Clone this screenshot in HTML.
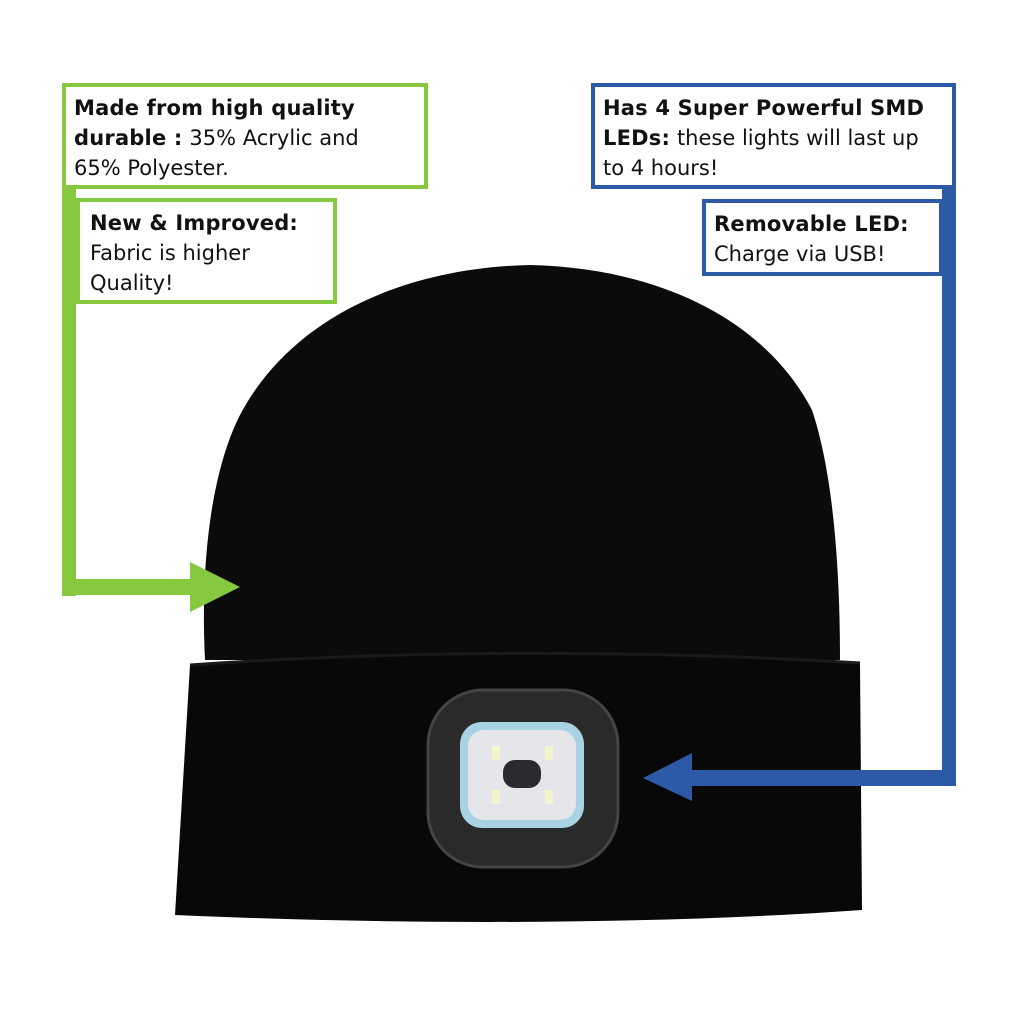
<!DOCTYPE html>
<html><head><meta charset="utf-8"><style>
html,body{margin:0;padding:0;background:#fff;}
body{width:1024px;height:1024px;position:relative;overflow:hidden;font-family:"DejaVu Sans","Liberation Sans",sans-serif;}
.box{position:absolute;background:#fff;box-sizing:border-box;color:#111;font-size:21px;line-height:30px;padding:6px 8px;letter-spacing:0.2px;white-space:nowrap;}
.g{border:4px solid #86c93f;}
.bl{border:4px solid #2d5aa6;}
b{font-weight:bold;}
.t{font-weight:normal;letter-spacing:0;}
</style></head><body>
<svg width="1024" height="1024" style="position:absolute;left:0;top:0">
  <path d="M205,660 C200,560 212,470 240,415 C290,320 400,268 530,265 C660,268 765,320 812,410 C832,470 840,560 840,660 Z" fill="#0b0b0b"/>
  <path d="M190,665 C400,650 650,650 860,663 L862,910 C650,925 400,925 175,915 Z" fill="#080808"/>
  <path d="M190,665 C400,650 650,650 860,663" stroke="#1a1a1a" stroke-width="3" fill="none"/>
  <rect x="428" y="690" width="190" height="177" rx="55" fill="#2a2a2a" stroke="#444" stroke-width="3"/>
  <rect x="460" y="722" width="124" height="106" rx="22" fill="#a9d3e3"/>
  <rect x="468" y="730" width="108" height="90" rx="16" fill="#e4e6ea"/>
  <rect x="492" y="746" width="8" height="14" fill="#f4f4cf"/>
  <rect x="545" y="746" width="8" height="14" fill="#f4f4cf"/>
  <rect x="492" y="790" width="8" height="14" fill="#f4f4cf"/>
  <rect x="545" y="790" width="8" height="14" fill="#f4f4cf"/>
  <rect x="503" y="760" width="38" height="28" rx="12" fill="#2a2b2e"/>
  <rect x="62" y="186" width="14" height="410" fill="#86c93f"/>
  <rect x="62" y="579" width="130" height="16" fill="#86c93f"/>
  <polygon points="190,562 240,587 190,612" fill="#86c93f"/>
  <rect x="942" y="186" width="14" height="600" fill="#2d5aa6"/>
  <rect x="688" y="770" width="268" height="16" fill="#2d5aa6"/>
  <polygon points="692,753 643,778 692,801" fill="#2d5aa6"/>
</svg>
<div class="box g" style="left:62px;top:83px;width:366px;height:106px;"><b>Made from high quality</b><br><b>durable :</b> <span class="t">35% Acrylic and</span><br><span class="t">65% Polyester.</span></div>
<div class="box g" style="left:76px;top:198px;width:261px;height:106px;padding-left:10px;"><b>New &amp; Improved:</b><br><span class="t">Fabric is higher</span><br><span class="t">Quality!</span></div>
<div class="box bl" style="left:591px;top:83px;width:365px;height:106px;"><b>Has 4 Super Powerful SMD</b><br><b>LEDs:</b> <span class="t">these lights will last up</span><br><span class="t">to 4 hours!</span></div>
<div class="box bl" style="left:702px;top:199px;width:241px;height:77px;"><b>Removable LED:</b><br><span class="t">Charge via USB!</span></div>
</body></html>
